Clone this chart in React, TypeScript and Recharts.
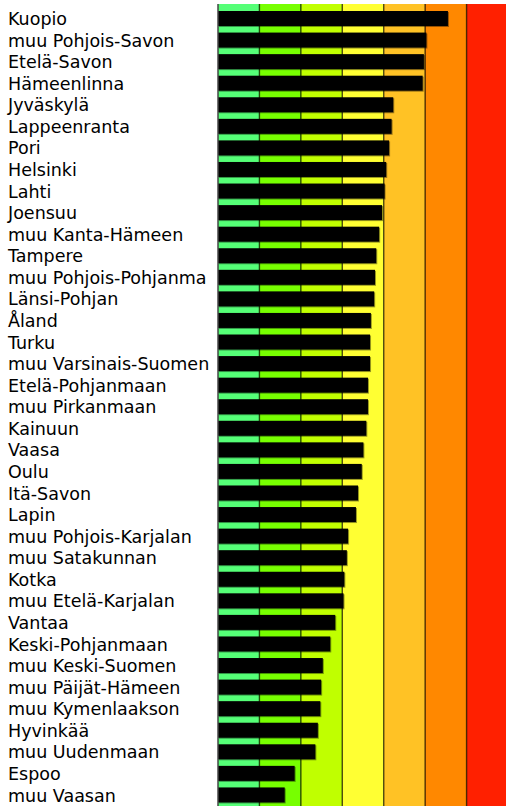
import React from "react";
import { BarChart, Bar, XAxis, YAxis, CartesianGrid } from "recharts";

const categories = [
  "Kuopio",
  "muu Pohjois-Savon",
  "Etelä-Savon",
  "Hämeenlinna",
  "Jyväskylä",
  "Lappeenranta",
  "Pori",
  "Helsinki",
  "Lahti",
  "Joensuu",
  "muu Kanta-Hämeen",
  "Tampere",
  "muu Pohjois-Pohjanma",
  "Länsi-Pohjan",
  "Åland",
  "Turku",
  "muu Varsinais-Suomen",
  "Etelä-Pohjanmaan",
  "muu Pirkanmaan",
  "Kainuun",
  "Vaasa",
  "Oulu",
  "Itä-Savon",
  "Lapin",
  "muu Pohjois-Karjalan",
  "muu Satakunnan",
  "Kotka",
  "muu Etelä-Karjalan",
  "Vantaa",
  "Keski-Pohjanmaan",
  "muu Keski-Suomen",
  "muu Päijät-Hämeen",
  "muu Kymenlaakson",
  "Hyvinkää",
  "muu Uudenmaan",
  "Espoo",
  "muu Vaasan",
];

const values = [
  5.55, 5.03, 4.97, 4.94, 4.23, 4.19, 4.13, 4.06, 4.02, 3.96, 3.89, 3.82, 3.79,
  3.77, 3.69, 3.67, 3.67, 3.62, 3.62, 3.58, 3.51, 3.47, 3.38, 3.33, 3.14, 3.11,
  3.05, 3.03, 2.83, 2.71, 2.53, 2.49, 2.47, 2.41, 2.35, 1.85, 1.61,
];

// band boundaries on the value axis, one colour per band
const bandEdges = [0, 1, 2, 3, 4, 5, 6, 7];
const bandColors = [
  "#55ff77",
  "#77ff00",
  "#c0ff00",
  "#ffff33",
  "#ffc225",
  "#ff8800",
  "#ff2000",
];

const data = categories.map((name, i) => ({ name, value: values[i] }));

const LabelTick = (props: any) => {
  const { y, payload } = props;
  return (
    <text
      x={8}
      y={y}
      dy="0.36em"
      textAnchor="start"
      fontFamily="DejaVu Sans"
      fontSize={17.5}
      fill="#000"
    >
      {payload.value}
    </text>
  );
};

const NoTick = () => <g />;

// black bar with a soft 1px drop shadow
const ShadowBar = (props: any) => {
  const { x, y, width, height } = props;
  if (!width || width <= 0) return null;
  return (
    <g>
      <rect x={x + 1} y={y + 1} width={width} height={height} fill="#000" opacity={0.4} />
      <rect x={x} y={y} width={width} height={height} fill="#000" />
    </g>
  );
};

export default function App() {
  return (
    <div style={{ position: "absolute", left: 0, top: 0, width: 506, height: 806, overflow: "hidden" }}>
      <BarChart
        width={508}
        height={806}
        data={data}
        layout="vertical"
        margin={{ top: 4, right: 0, bottom: 0, left: 0 }}
      >
        <CartesianGrid
          horizontal={false}
          vertical
          verticalFill={bandColors}
          stroke="#000"
          strokeOpacity={0.7}
          strokeWidth={1.4}
        />
        <XAxis
          type="number"
          orientation="top"
          domain={[0, 7]}
          ticks={bandEdges}
          interval={0}
          height={0}
          tick={NoTick}
          tickLine={false}
          axisLine={{ stroke: "#707070" }}
        />
        <YAxis
          type="category"
          dataKey="name"
          width={218}
          padding={{ top: 4, bottom: 0 }}
          interval={0}
          tickLine={false}
          axisLine={{ stroke: "#666" }}
          tick={<LabelTick />}
        />
        <Bar
          dataKey="value"
          barSize={15}
          fill="#000"
          isAnimationActive={false}
          shape={<ShadowBar />}
        />
      </BarChart>
    </div>
  );
}
